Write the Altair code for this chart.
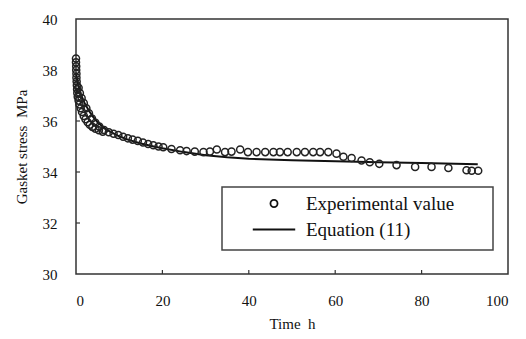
import altair as alt
import pandas as pd

# Experimental values (time h, gasket stress MPa)
exp_time = [0.0, 0.0, 0.05, 0.05, 0.1, 0.1, 0.15, 0.2, 0.25, 0.3,
            0.4, 0.6, 0.8, 1.1, 1.4, 1.8, 2.2, 2.7, 3.2, 3.8, 4.5, 5.3, 6.2,
            0.6, 0.9, 1.3, 1.8, 2.4, 3.0, 3.7, 4.5, 5.4, 6.5, 7.6, 8.7, 9.8,
            10.9, 12.0, 13.1, 14.3, 15.5, 16.7, 17.9, 19.1, 20.2, 22.1, 24.1,
            25.6, 27.5, 29.5, 31.0, 32.6, 34.5, 36.0, 38.0, 39.8, 41.8, 43.8,
            45.7, 47.2, 49.0, 51.1, 53.0, 54.9, 56.5, 58.4, 60.3, 61.9, 63.8,
            66.1, 68.0, 70.2, 74.2, 78.5, 82.3, 86.2, 90.4, 91.6, 93.1]
exp_stress = [38.45, 38.3, 38.15, 38.0, 37.85, 37.7, 37.55, 37.4, 37.25, 37.1,
              36.95, 36.8, 36.65, 36.5, 36.35, 36.2, 36.07, 35.95, 35.85, 35.77, 35.7, 35.64, 35.58,
              37.3, 37.1, 36.9, 36.7, 36.5, 36.3, 36.1, 35.93, 35.78, 35.65, 35.56, 35.5, 35.45,
              35.38, 35.32, 35.27, 35.22, 35.16, 35.1, 35.05, 35.0, 34.97, 34.9, 34.85,
              34.82, 34.8, 34.78, 34.8, 34.88, 34.78, 34.8, 34.88, 34.78, 34.78, 34.78,
              34.78, 34.78, 34.78, 34.78, 34.78, 34.78, 34.78, 34.78, 34.72, 34.6, 34.55,
              34.45, 34.38, 34.32, 34.27, 34.2, 34.2, 34.16, 34.07, 34.05, 34.05]

# Equation (11)
eq_time = [0, 0.5, 1, 1.5, 2, 3, 4, 5, 6, 7, 8, 10, 12, 15, 18, 20, 25, 30, 35,
           40, 50, 60, 70, 80, 93]
eq_stress = [37.9, 37.4, 37.1, 36.9, 36.7, 36.4, 36.15, 35.95, 35.8, 35.67, 35.57,
             35.4, 35.27, 35.12, 35.0, 34.93, 34.78, 34.66, 34.58, 34.52, 34.46,
             34.42, 34.38, 34.35, 34.3]

x_ticks = [0, 20, 40, 60, 80, 100]
y_ticks = [30, 32, 34, 36, 38, 40]
series_names = ["Experimental value", "Equation (11)"]

W, H = 432, 255
FONT = "Liberation Serif"

exp_df = pd.DataFrame({"t": exp_time, "s": exp_stress, "series": series_names[0]})
eq_df = pd.DataFrame({"t": eq_time, "s": eq_stress})

xscale = alt.Scale(domain=[0, 100], nice=False)
yscale = alt.Scale(domain=[30, 40], nice=False, zero=False)

xaxis = alt.Axis(values=x_ticks, title="Time\u00a0\u00a0h", ticks=False, grid=False,
                 labelPadding=19, titlePadding=8, format="d")
yaxis = alt.Axis(values=y_ticks, title="Gasket stress\u00a0\u00a0MPa", ticks=False, grid=False,
                 labelPadding=19, titlePadding=13, format="d")

points = alt.Chart(exp_df).mark_point(
    filled=False, size=50, color="#222", strokeWidth=1.5, opacity=1
).encode(
    x=alt.X("t:Q", scale=xscale, axis=xaxis),
    y=alt.Y("s:Q", scale=yscale, axis=yaxis),
    shape=alt.Shape(
        "series:N",
        scale=alt.Scale(domain=series_names, range=["circle", "M-6,0L6,0"]),
        legend=alt.Legend(
            title=None, orient="none", legendX=188.5, legendY=175,
            symbolSize=50, symbolStrokeColor="#111", symbolFillColor="transparent",
            symbolStrokeWidth=1.8, labelOffset=22.5, rowPadding=6,
            labelFont=FONT, labelFontSize=19, labelColor="#111", padding=0,
        ),
    ),
)

line = alt.Chart(eq_df).mark_line(color="#111", strokeWidth=2).encode(
    x=alt.X("t:Q", scale=xscale),
    y=alt.Y("s:Q", scale=yscale),
)

legend_box = alt.Chart(pd.DataFrame({"a": [0]})).mark_rect(
    fill="white", stroke="#444", strokeWidth=1.5
).encode(
    x=alt.value(146), x2=alt.value(417), y=alt.value(168), y2=alt.value(231)
)

xt = alt.Chart(pd.DataFrame({"t": x_ticks[1:-1]})).mark_rule(color="#333", strokeWidth=1.2).encode(
    x=alt.X("t:Q", scale=xscale), y=alt.value(H), y2=alt.value(H - 4)
)
yt = alt.Chart(pd.DataFrame({"s": y_ticks[1:-1]})).mark_rule(color="#333", strokeWidth=1.2).encode(
    y=alt.Y("s:Q", scale=yscale), x=alt.value(0), x2=alt.value(4)
)

chart = alt.layer(legend_box, xt, yt, line, points).properties(
    width=W, height=H,
    autosize=alt.AutoSizeParams(type="none"),
    padding={"left": 68, "top": 11, "right": 10, "bottom": 75},
    background="white",
).configure_view(
    stroke="#333", strokeWidth=1.5
).configure_axis(
    domain=False, labelFont=FONT, titleFont=FONT, labelFontSize=15, titleFontSize=15,
    labelColor="#111", titleColor="#111", titleFontWeight="normal",
)

chart.save("out.html", embed_options={"renderer": "svg", "actions": False})
